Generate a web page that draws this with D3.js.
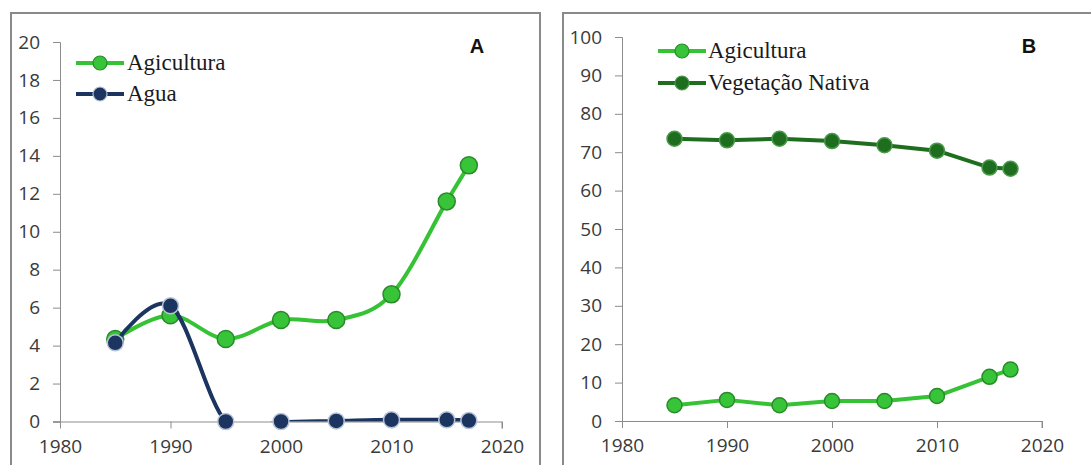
<!DOCTYPE html>
<html>
<head>
<meta charset="utf-8">
<script src="https://cdn.jsdelivr.net/npm/d3@7"></script>
<style>
  html, body { margin: 0; padding: 0; background: #fff; }
  svg { display: block; }
</style>
</head>
<body>
<div id="chart"></div>
<script>
// data
const years = [1985, 1990, 1995, 2000, 2005, 2010, 2015, 2017];
const agriA = [4.35, 5.6, 4.35, 5.35, 5.35, 6.7, 11.6, 13.5];
const aguaA = [4.15, 6.1, 0.0, -0.03, 0.03, 0.09, 0.09, 0.05];
const agriB = [4.1, 5.5, 4.1, 5.2, 5.2, 6.5, 11.5, 13.4];
const vegB  = [73.5, 73.1, 73.5, 72.9, 71.8, 70.4, 66.0, 65.7];
const xTicks = [1980, 1990, 2000, 2010, 2020];
const yTicksA = [0, 2, 4, 6, 8, 10, 12, 14, 16, 18, 20];
const yTicksB = [0, 10, 20, 30, 40, 50, 60, 70, 80, 90, 100];

const W = 1091, H = 465;
const svg = d3.select("#chart").append("svg")
  .attr("width", W).attr("height", H);

const AXIS = "#8c8c8c";
const TICK_FONT = "'Open Sans', sans-serif";

const green = { line: "#35c235", fill: "#38c438", stroke: "#2a8a2a" };
const navy  = { line: "#1b3560", fill: "#1b3560", stroke: "#b8c4d6" };
const dark  = { line: "#1f6e1f", fill: "#1f6e1f", stroke: "#4a9a4a" };

function styleTicks(sel){
  sel.selectAll(".tick text")
    .style("font-family", TICK_FONT)
    .style("font-size", "19px")
    .style("fill", "#3a3a3a");
  sel.selectAll(".domain, .tick line").attr("stroke", AXIS).attr("stroke-width", 1);
}

function panel(cfg){
  // frame
  svg.append("rect")
    .attr("x", cfg.frame[0]).attr("y", cfg.frame[1])
    .attr("width", cfg.frame[2]).attr("height", cfg.frame[3])
    .attr("fill", "#fff").attr("stroke", "#8a8a8a").attr("stroke-width", 2);

  const x = d3.scaleLinear().domain([1980, 2020]).range(cfg.xr);
  const y = d3.scaleLinear().domain(cfg.yd).range(cfg.yr);
  const g = svg.append("g");

  // clip for lines (excel clips lines to the plot area)
  const clipId = "clip-" + cfg.tag;
  svg.append("clipPath").attr("id", clipId)
    .append("rect")
      .attr("x", cfg.xr[0]).attr("y", cfg.yr[1])
      .attr("width", cfg.xr[1] - cfg.xr[0])
      .attr("height", cfg.yr[0] - cfg.yr[1]);

  // y axis
  g.append("g")
    .attr("transform", `translate(${cfg.xr[0]},0)`)
    .call(d3.axisLeft(y).tickValues(cfg.yTicks).tickSize(7).tickPadding(13).tickFormat(d3.format("d")))
    .call(styleTicks);

  // x axis
  const xAxis = g.append("g")
    .attr("transform", `translate(0,${cfg.yr[0]})`)
    .call(d3.axisBottom(x).tickValues(xTicks).tickSize(7).tickPadding(11).tickFormat(d3.format("d")))
    .call(styleTicks);
  xAxis.select(".domain").attr("d", `M${cfg.xr[0]-7},0.5H${cfg.xr[1]}V7`);

  // series
  cfg.series.forEach(s => {
    const pts = years.map((yr, i) => [yr, s.values[i]]);
    const line = d3.line().x(d => x(d[0])).y(d => y(d[1])).curve(s.curve);
    g.append("path")
      .datum(pts)
      .attr("d", line)
      .attr("clip-path", `url(#${clipId})`)
      .attr("fill", "none")
      .attr("stroke", s.col.line)
      .attr("stroke-width", 4)
      .attr("stroke-linejoin", "round");
    g.selectAll(null).data(pts).enter().append("circle")
      .attr("cx", d => x(d[0]))
      .attr("cy", d => y(Math.max(d[1], cfg.yd[0])))
      .attr("r", s.r)
      .attr("fill", s.col.fill)
      .attr("stroke", s.col.stroke)
      .attr("stroke-width", 1.5);
  });

  // legend
  cfg.series.forEach((s, i) => {
    const ly = cfg.legend[1] + i * cfg.legend[3];
    const lx = cfg.legend[0];
    g.append("line")
      .attr("x1", lx).attr("x2", lx + 48).attr("y1", ly).attr("y2", ly)
      .attr("stroke", s.col.line).attr("stroke-width", 4);
    g.append("circle")
      .attr("cx", lx + 24).attr("cy", ly).attr("r", 7)
      .attr("fill", s.col.fill).attr("stroke", s.col.stroke).attr("stroke-width", 1.2);
    g.append("text")
      .attr("x", lx + cfg.legend[2]).attr("y", ly + 7)
      .style("font-family", "'Liberation Serif', serif")
      .style("font-size", "23px")
      .style("fill", "#1a1a1a")
      .text(s.name);
  });

  g.append("text")
    .attr("x", cfg.tagPos[0]).attr("y", cfg.tagPos[1])
    .attr("text-anchor", "middle")
    .style("font-family", "'Liberation Sans', sans-serif")
    .style("font-size", "20px")
    .style("font-weight", "bold")
    .style("fill", "#111")
    .text(cfg.tag);
}

panel({
  tag: "A",
  frame: [11, 13, 529, 470],
  xr: [60, 502],
  yr: [421.5, 42],
  yd: [0, 20],
  yTicks: yTicksA,
  legend: [76, 63, 51, 31],
  tagPos: [477, 53],
  series: [
    { name: "Agicultura", values: agriA, col: green, r: 8.5, curve: d3.curveCardinal.tension(0) },
    { name: "Agua", values: aguaA, col: navy, r: 8, curve: d3.curveCardinal.tension(0) }
  ]
});

panel({
  tag: "B",
  frame: [563, 13, 540, 470],
  xr: [622, 1042],
  yr: [421, 37],
  yd: [0, 100],
  yTicks: yTicksB,
  legend: [658, 51, 50, 32],
  tagPos: [1029, 53],
  series: [
    { name: "Agicultura", values: agriB, col: green, r: 7.5, curve: d3.curveLinear },
    { name: "Vegetação Nativa", values: vegB, col: dark, r: 7.5, curve: d3.curveLinear }
  ]
});
</script>
</body>
</html>
